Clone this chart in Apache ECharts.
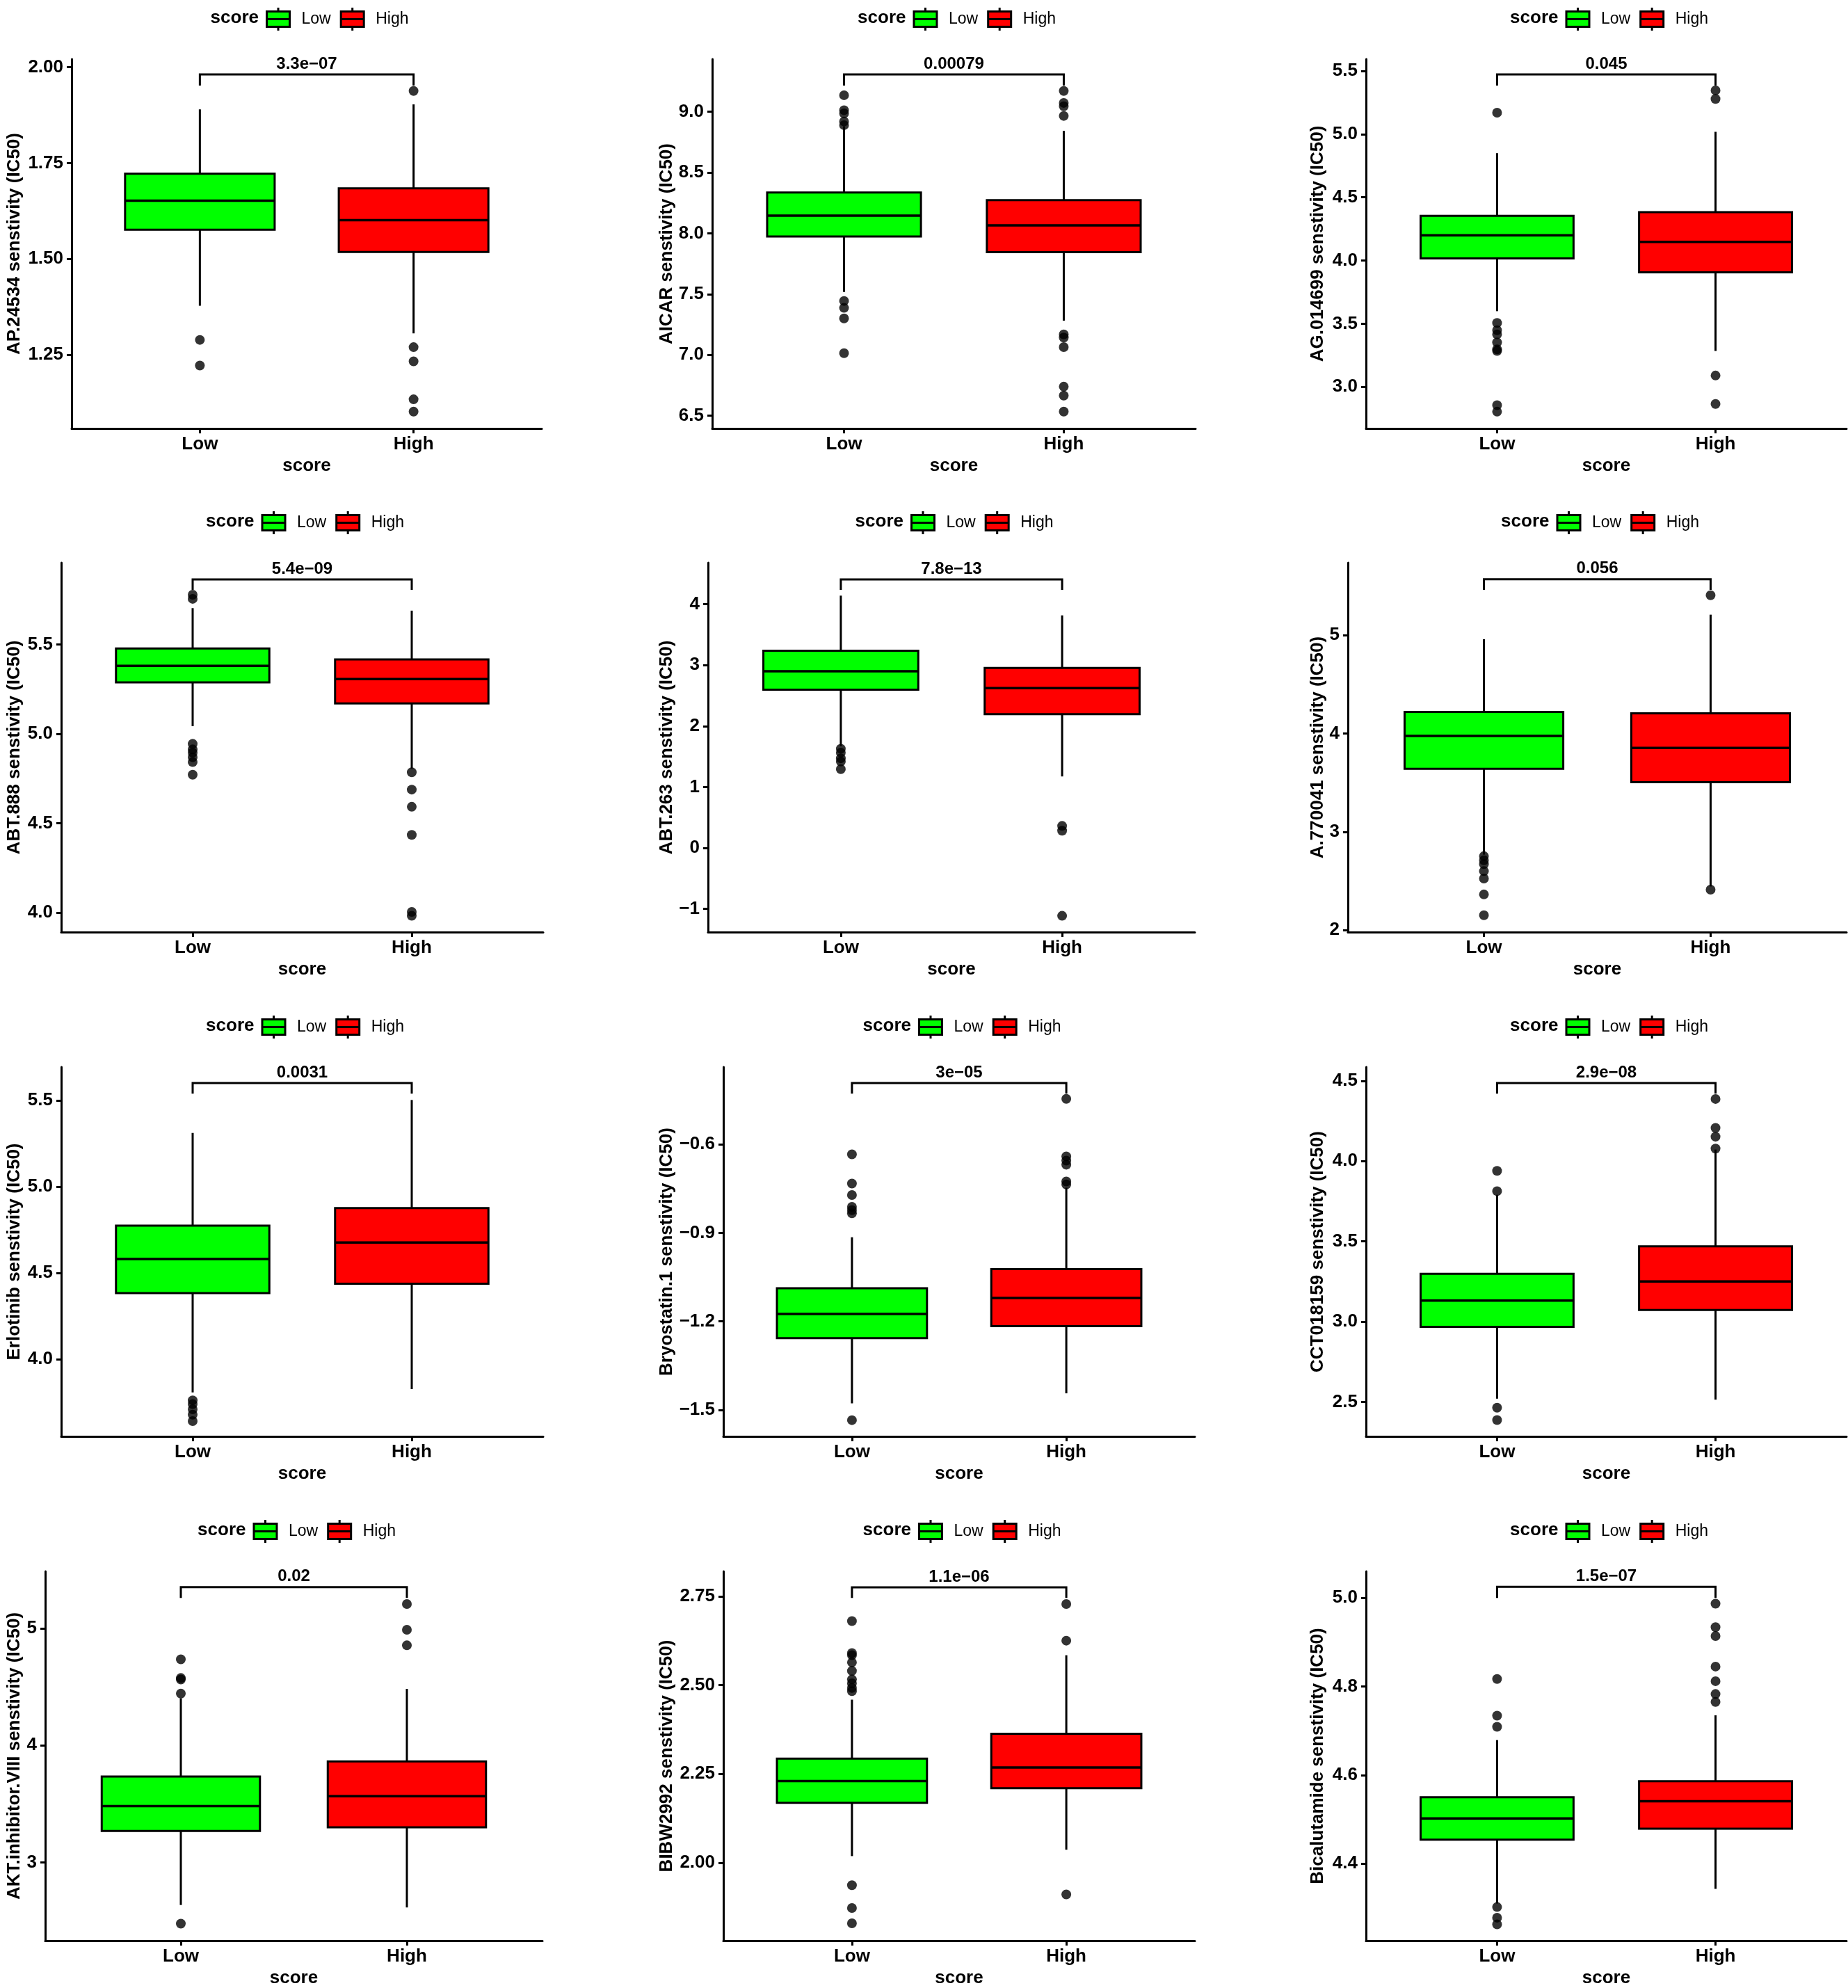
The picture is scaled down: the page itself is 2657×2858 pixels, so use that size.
<!DOCTYPE html>
<html>
<head>
<meta charset="utf-8">
<title>IC50 sensitivity by score</title>
<script src="https://cdn.jsdelivr.net/npm/echarts@6/dist/echarts.min.js"></script>
<style>
html, body { margin: 0; padding: 0; background: #fff; }
#main { width: 2657px; height: 2858px; }
</style>
</head>
<body>
<div id="main"></div>
<script>
// ---- data ----
var groups = ['Low', 'High'];

var drugs = ['AP.24534', 'AICAR', 'AG.014699',
             'ABT.888', 'ABT.263', 'A.770041',
             'Erlotinib', 'Bryostatin.1', 'CCT018159',
             'AKT.inhibitor.VIII', 'BIBW2992', 'Bicalutamide'];

var pValues = ['3.3e\u221207', '0.00079', '0.045',
               '5.4e\u221209', '7.8e\u221213', '0.056',
               '0.0031', '3e\u221205', '2.9e\u221208',
               '0.02', '1.1e\u221206', '1.5e\u221207'];

var yTicks = [
  ['1.25', '1.50', '1.75', '2.00'],
  ['6.5', '7.0', '7.5', '8.0', '8.5', '9.0'],
  ['3.0', '3.5', '4.0', '4.5', '5.0', '5.5'],
  ['4.0', '4.5', '5.0', '5.5'],
  ['-1', '0', '1', '2', '3', '4'],
  ['2', '3', '4', '5'],
  ['4.0', '4.5', '5.0', '5.5'],
  ['-1.5', '-1.2', '-0.9', '-0.6'],
  ['2.5', '3.0', '3.5', '4.0', '4.5'],
  ['3', '4', '5'],
  ['2.00', '2.25', '2.50', '2.75'],
  ['4.4', '4.6', '4.8', '5.0']
];

var yRange = [
  [1.058, 2.021], [6.395, 9.433], [2.671, 5.593],
  [3.891, 5.957], [-1.382, 4.681], [1.980, 5.736],
  [3.552, 5.693], [-1.590, -0.338], [2.285, 4.586],
  [2.331, 5.486], [1.781, 2.820], [4.226, 5.060]
];

// [lower whisker, Q1, median, Q3, upper whisker]
var lowStats = [
  [1.378, 1.576, 1.652, 1.722, 1.890],
  [7.518, 7.974, 8.145, 8.336, 8.880],
  [3.599, 4.016, 4.200, 4.354, 4.849],
  [5.043, 5.288, 5.380, 5.477, 5.703],
  [1.670, 2.597, 2.901, 3.236, 4.141],
  [2.768, 3.641, 3.975, 4.218, 4.958],
  [3.807, 4.383, 4.580, 4.774, 5.311],
  [-1.478, -1.257, -1.175, -1.088, -0.915],
  [2.520, 2.968, 3.131, 3.298, 3.790],
  [2.636, 3.268, 3.481, 3.733, 4.402],
  [2.019, 2.169, 2.230, 2.293, 2.459],
  [4.310, 4.454, 4.502, 4.550, 4.679]
];

var highStats = [
  [1.306, 1.518, 1.601, 1.684, 1.903],
  [7.282, 7.846, 8.066, 8.273, 8.843],
  [3.284, 3.907, 4.147, 4.382, 5.018],
  [4.806, 5.170, 5.306, 5.416, 5.689],
  [1.173, 2.194, 2.623, 2.953, 3.817],
  [2.444, 3.505, 3.852, 4.205, 5.208],
  [3.826, 4.437, 4.676, 4.876, 5.502],
  [-1.444, -1.216, -1.121, -1.023, -0.747],
  [2.514, 3.073, 3.250, 3.469, 4.072],
  [2.615, 3.300, 3.566, 3.863, 4.482],
  [2.037, 2.210, 2.268, 2.363, 2.584],
  [4.343, 4.479, 4.541, 4.586, 4.735]
];

var lowOutliers = [
  [1.289, 1.222],
  [9.136, 9.013, 8.987, 8.920, 8.890, 7.444, 7.387, 7.300, 7.014],
  [5.169, 3.506, 3.448, 3.415, 3.352, 3.297, 3.284, 2.855, 2.804],
  [5.778, 5.755, 4.944, 4.913, 4.895, 4.869, 4.842, 4.771],
  [1.628, 1.565, 1.471, 1.419, 1.293],
  [2.752, 2.710, 2.671, 2.600, 2.525, 2.363, 2.152],
  [3.761, 3.739, 3.709, 3.678, 3.641],
  [-0.634, -0.733, -0.772, -0.812, -0.823, -0.834, -1.535],
  [3.939, 3.813, 2.464, 2.387],
  [4.734, 4.575, 4.562, 4.442, 2.477],
  [2.680, 2.590, 2.584, 2.564, 2.540, 2.516, 2.505, 2.492, 2.483, 1.937, 1.873, 1.830],
  [4.817, 4.734, 4.709, 4.302, 4.278, 4.263]
];

var highOutliers = [
  [1.938, 1.270, 1.233, 1.134, 1.102],
  [9.171, 9.073, 9.045, 8.966, 7.169, 7.143, 7.064, 6.739, 6.665, 6.534],
  [5.346, 5.278, 3.090, 2.865],
  [4.785, 4.688, 4.592, 4.435, 4.004, 3.982],
  [0.361, 0.283, -1.115],
  [5.405, 2.412],
  [],
  [-0.446, -0.641, -0.655, -0.669, -0.726, -0.736],
  [4.387, 4.207, 4.152, 4.078],
  [5.207, 4.987, 4.854],
  [2.728, 2.625, 1.911],
  [4.987, 4.934, 4.914, 4.845, 4.812, 4.783, 4.765]
];

// [bar height, tip height] of the comparison bracket
var brackets = [
  [1.981, 1.952], [9.307, 9.215], [5.472, 5.384],
  [5.864, 5.805], [4.408, 4.236], [5.568, 5.461],
  [5.600, 5.539], [-0.392, -0.428], [4.486, 4.420],
  [5.351, 5.258], [2.775, 2.745], [5.025, 5.000]
];

// ---- layout / style ----
var FONT = '"Liberation Sans", Arial, Helvetica, sans-serif';
var colors = ['#00FF00', '#FF0000'];
var BOX_W = 0.7;
var rowTop = [85, 809, 1534, 2259];
var panelH = 531;
var panelX = [
  [103, 779], [1024, 1719], [1964, 2655],
  [88, 781], [1018, 1718], [1938, 2655],
  [88, 781], [1040, 1718], [1964, 2655],
  [65, 780], [1040, 1718], [1964, 2655]
];
var titleX = [20, 958, 1894];
var LEG_ICON = 'path://M0,5.5H33V27.5H0Z M0,16.5H33 M16.5,0V5.5 M16.5,27.5V33';

function tickLabel(ticks) {
  return function (v) {
    for (var k = 0; k < ticks.length; k++) {
      if (Math.abs(Number(ticks[k]) - v) < 1e-9) return ticks[k].replace('-', '\u2212');
    }
    return '';
  };
}

function renderBox(params, api) {
  var x = api.value(0);
  var lo = api.coord([x, api.value(1)]);
  var q1 = api.coord([x, api.value(2)]);
  var md = api.coord([x, api.value(3)]);
  var q3 = api.coord([x, api.value(4)]);
  var hi = api.coord([x, api.value(5)]);
  var half = api.size([BOX_W, 0])[0] / 2;
  return {
    type: 'group',
    children: [
      { type: 'line', shape: { x1: lo[0], y1: lo[1], x2: q1[0], y2: q1[1] }, style: { stroke: '#000', lineWidth: 3 } },
      { type: 'line', shape: { x1: q3[0], y1: q3[1], x2: hi[0], y2: hi[1] }, style: { stroke: '#000', lineWidth: 3 } },
      { type: 'rect', shape: { x: q3[0] - half, y: q3[1], width: half * 2, height: q1[1] - q3[1] },
        style: { fill: api.visual('color'), stroke: '#000', lineWidth: 3 } },
      { type: 'line', shape: { x1: md[0] - half, y1: md[1], x2: md[0] + half, y2: md[1] }, style: { stroke: '#000', lineWidth: 3.5 } }
    ]
  };
}

function makeBracket(label) {
  return function (params, api) {
    var x1 = api.value(0), x2 = api.value(1), bar = api.value(2), tip = api.value(3);
    var a = api.coord([x1, tip]), b = api.coord([x1, bar]);
    var c = api.coord([x2, bar]), d = api.coord([x2, tip]);
    return {
      type: 'group',
      children: [
        { type: 'polyline', shape: { points: [a, b, c, d] }, style: { stroke: '#000', lineWidth: 3, fill: null } },
        { type: 'text', x: (b[0] + c[0]) / 2, y: b[1] - 3,
          style: { text: label, fill: '#000', fontSize: 24, fontWeight: 'bold', fontFamily: FONT,
                   align: 'center', verticalAlign: 'bottom' } }
      ]
    };
  };
}

function buildOption() {
  var grids = [], xAxes = [], yAxes = [], series = [], legends = [], texts = [];

  for (var i = 0; i < drugs.length; i++) {
    var row = Math.floor(i / 3), col = i % 3;
    var gLeft = panelX[i][0], gRight = panelX[i][1];
    var gTop = rowTop[row];
    var gMid = (gLeft + gRight) / 2;
    var yVals = yTicks[i].map(Number);

    grids.push({ left: gLeft, top: gTop, width: gRight - gLeft, height: panelH, outerBoundsMode: 'none' });

    xAxes.push({
      gridIndex: i, type: 'value', min: 0.4, max: 2.6,
      name: 'score', nameLocation: 'middle', nameGap: 41, nameMoveOverlap: false,
      nameTextStyle: { color: '#000', fontSize: 26, fontWeight: 'bold', fontFamily: FONT },
      axisLine: { onZero: false, lineStyle: { color: '#000', width: 3 } },
      axisTick: { customValues: [1, 2], length: 7, lineStyle: { color: '#000', width: 3 } },
      axisLabel: { customValues: [1, 2], margin: 10, color: '#000', fontSize: 26, fontWeight: 'bold', fontFamily: FONT,
                   formatter: function (v) { return groups[Math.round(v) - 1] || ''; } },
      splitLine: { show: false }
    });

    yAxes.push({
      gridIndex: i, type: 'value', min: yRange[i][0], max: yRange[i][1],
      name: drugs[i] + ' senstivity (IC50)', nameLocation: 'middle', nameGap: gLeft - titleX[col] - 14,
      nameMoveOverlap: false,
      nameTextStyle: { color: '#000', fontSize: 26, fontWeight: 'bold', fontFamily: FONT },
      axisLine: { onZero: false, lineStyle: { color: '#000', width: 3 } },
      axisTick: { customValues: yVals, length: 7, lineStyle: { color: '#000', width: 3 } },
      axisLabel: { customValues: yVals, margin: 12, color: '#000', fontSize: 26, fontWeight: 'bold', fontFamily: FONT,
                   formatter: tickLabel(yTicks[i]) },
      splitLine: { show: false }
    });

    series.push({
      type: 'custom', name: 'Low', xAxisIndex: i, yAxisIndex: i, renderItem: renderBox, clip: false, z: 2,
      itemStyle: { color: colors[0] }, data: [[1].concat(lowStats[i])]
    });
    series.push({
      type: 'custom', name: 'High', xAxisIndex: i, yAxisIndex: i, renderItem: renderBox, clip: false, z: 2,
      itemStyle: { color: colors[1] }, data: [[2].concat(highStats[i])]
    });

    var pts = lowOutliers[i].map(function (v) { return [1, v]; })
      .concat(highOutliers[i].map(function (v) { return [2, v]; }));
    series.push({
      type: 'scatter', name: 'outliers', xAxisIndex: i, yAxisIndex: i, symbol: 'circle', symbolSize: 14,
      itemStyle: { color: '#000' }, z: 3, silent: true, data: pts
    });

    series.push({
      type: 'custom', name: 'p', xAxisIndex: i, yAxisIndex: i, renderItem: makeBracket(pValues[i]), clip: false, z: 3,
      silent: true, data: [[1, 2, brackets[i][0], brackets[i][1]]]
    });

    legends.push({
      data: [{ name: 'Low', icon: LEG_ICON }, { name: 'High', icon: LEG_ICON }],
      left: gMid - 59, top: gTop - 75.5, padding: 0, itemWidth: 33, itemHeight: 33, itemGap: 13,
      selectedMode: false,
      itemStyle: { borderColor: '#000', borderWidth: 3 },
      textStyle: { color: '#000', fontSize: 23, fontFamily: FONT, padding: [0, 0, 0, 12] }
    });

    texts.push({
      type: 'text', x: gMid - 69, y: gTop - 59,
      style: { text: 'score', fill: '#000', fontSize: 26, fontWeight: 'bold', fontFamily: FONT,
               align: 'right', verticalAlign: 'middle' }
    });
  }

  return {
    animation: false,
    grid: grids,
    xAxis: xAxes,
    yAxis: yAxes,
    legend: legends,
    graphic: { elements: texts },
    series: series
  };
}

var chart = echarts.init(document.getElementById('main'));
chart.setOption(buildOption());
</script>
</body>
</html>
